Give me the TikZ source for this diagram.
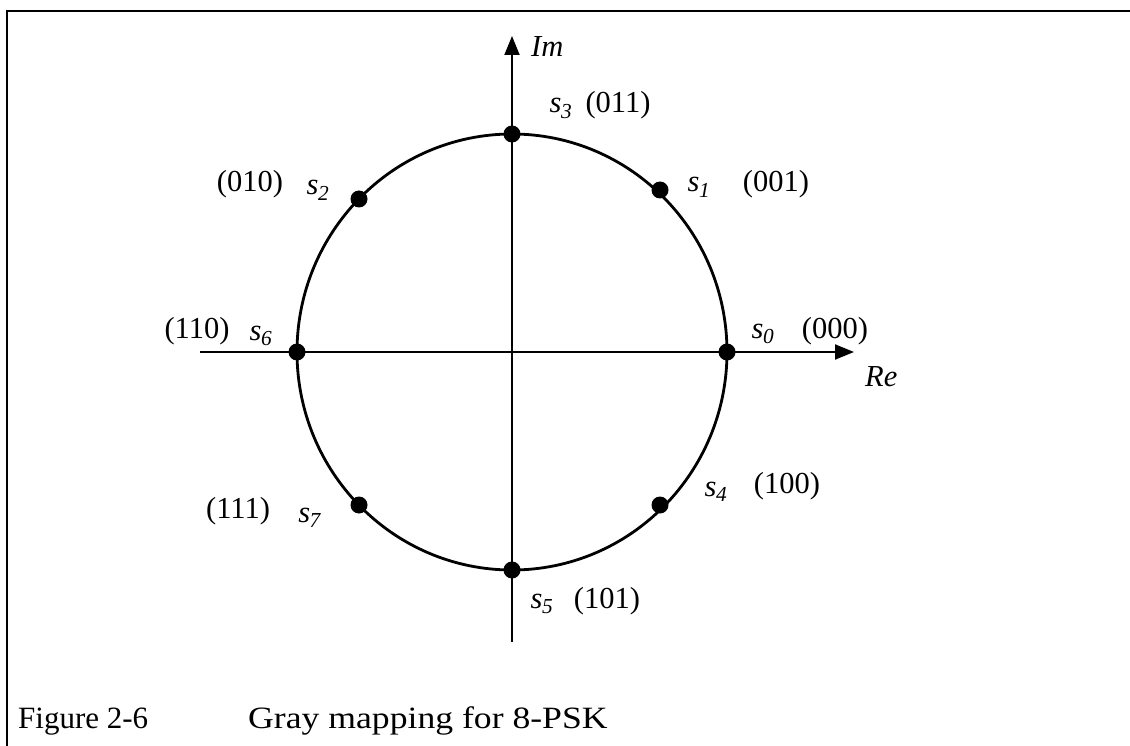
\documentclass[tikz,border=0pt]{standalone}
\usepackage{fontspec}
\setmainfont{Liberation Serif}
\newfontfamily\capfont[FakeStretch=1.15]{Liberation Serif}
\usetikzlibrary{arrows.meta}
\newcommand{\sym}[1]{\textit{s}\textsubscript{\kern-0.5pt\textit{#1}}}
\begin{document}
\begin{tikzpicture}[x=1pt,y=-1pt,
  lbl/.style={inner sep=0pt,anchor=base,font=\fontsize{30.5}{33}\selectfont},
  captext/.style={inner sep=0pt,anchor=base west,font=\fontsize{31}{34}\selectfont},
  dot/.style={circle,fill=black,inner sep=0pt,minimum size=17pt},
  axis/.style={line width=1.9pt,-{Triangle[length=19pt,width=15pt]}},
  frame/.style={line width=2.6pt}]
\useasboundingbox (0,0) rectangle (1130,746);
\draw[frame] (7,746) -- (7,11) -- (1130,11);
\coordinate (c) at (512,352);
\coordinate (xl) at (200,352);
\coordinate (xr) at (854,352);
\coordinate (yb) at (512,642);
\coordinate (yt) at (512,36);
\draw[axis] (xl) -- (xr);
\draw[axis] (yb) -- (yt);
\draw[line width=2.8pt] (c) ellipse [x radius=215, y radius=218];
\node[dot] (s0) at (727,352) {};
\node[dot] (s1) at (660,190) {};
\node[dot] (s2) at (359,199) {};
\node[dot] (s3) at (512,134) {};
\node[dot] (s4) at (660,505) {};
\node[dot] (s5) at (512,570) {};
\node[dot] (s6) at (297,352) {};
\node[dot] (s7) at (359,505) {};
\node[lbl,anchor=base west] (im) at (531,57) {\textit{Im}};
\node[lbl,anchor=base west] (re) at (865,386) {\textit{Re}};
\node[lbl] (l3) at (561,113) {\sym{3}};
\node[lbl] (b3) at (618,113) {(011)};
\node[lbl] (l1) at (699,192) {\sym{1}};
\node[lbl] (b1) at (776,192) {(001)};
\node[lbl] (b2) at (250,192) {(010)};
\node[lbl] (l2) at (318,195) {\sym{2}};
\node[lbl] (b6) at (197,338) {(110)};
\node[lbl] (l6) at (261,340) {\sym{6}};
\node[lbl] (l0) at (763,338) {\sym{0}};
\node[lbl] (b0) at (835,338) {(000)};
\node[lbl] (l4) at (716,496) {\sym{4}};
\node[lbl] (b4) at (787,493) {(100)};
\node[lbl] (b7) at (238,518) {(111)};
\node[lbl] (l7) at (310,522) {\sym{7}};
\node[lbl] (l5) at (542,608) {\sym{5}};
\node[lbl] (b5) at (607,608) {(101)};
\node[captext] (fig) at (18,728) {Figure 2-6};
\node[captext] (caption) at (248,728) {\capfont Gray mapping for 8-PSK};
\end{tikzpicture}
\end{document}
